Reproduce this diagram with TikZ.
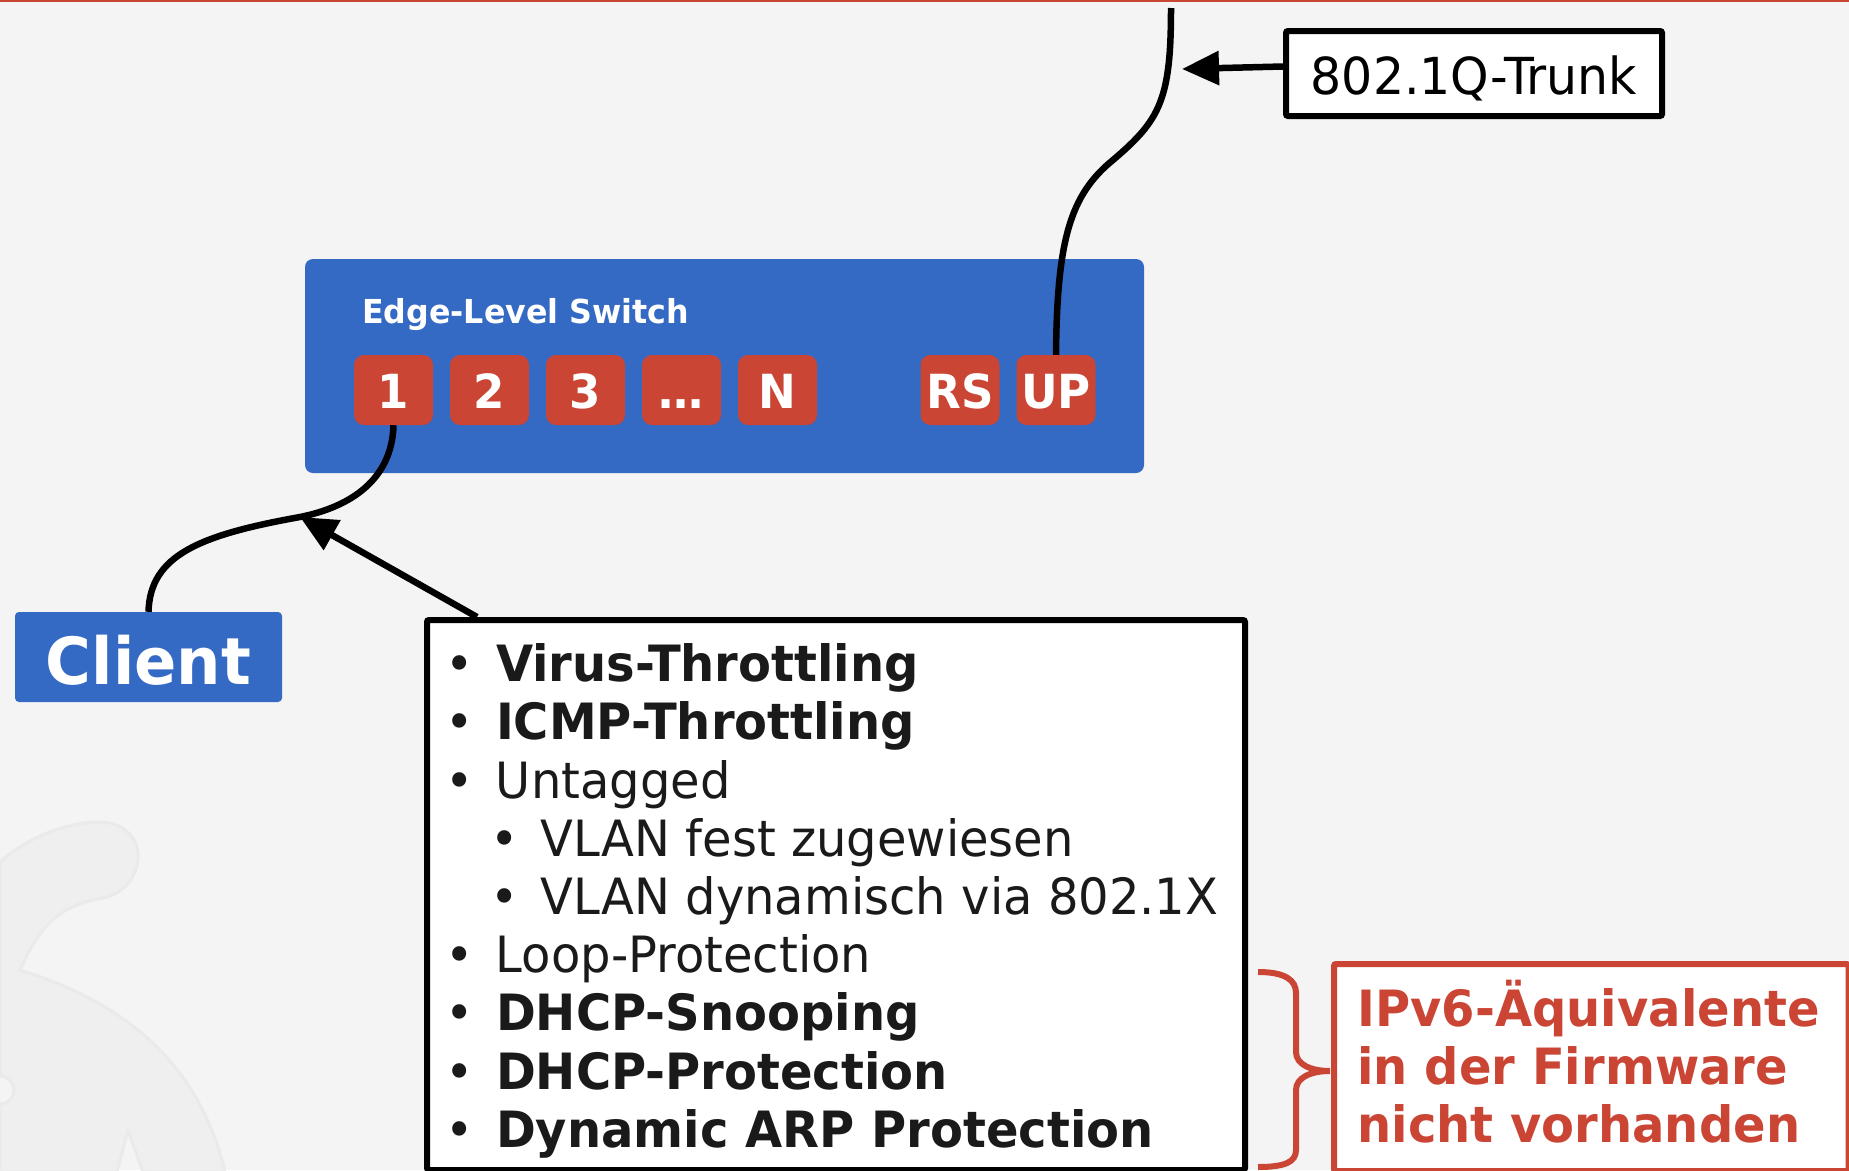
\documentclass[tikz,border=0pt]{standalone}
\usepackage{fontspec}
\setmainfont{DejaVu Sans}[FakeStretch=0.96]
\usetikzlibrary{arrows.meta}
\definecolor{bgcol}{HTML}{F4F4F4}
\definecolor{switchblue}{HTML}{3469C4}
\definecolor{portred}{HTML}{CB4535}
\definecolor{inkcol}{HTML}{1A1A1A}
\definecolor{markfill}{HTML}{EFEFEF}
\definecolor{markline}{HTML}{EAEAEA}
\newcommand\fsz[2]{\fontsize{#1}{#2}\selectfont}
\newcommand\bul[1]{\makebox[51pt][l]{\textbullet}#1}
\newcommand\subbul[1]{\hspace*{45pt}\makebox[51pt][l]{\textbullet}#1}

\begin{document}
\begin{tikzpicture}
[x=1pt,y=-1pt,
 switchbox/.style={rectangle,rounded corners=8pt,fill=switchblue,minimum width=839pt,minimum height=214pt,inner sep=0pt},
 swname/.style={text=white,font=\bfseries\fsz{33}{40},inner sep=0pt},
 port/.style={rectangle,rounded corners=10pt,fill=portred,text=white,font=\bfseries\fsz{47}{47},minimum width=79pt,minimum height=70pt,inner sep=0pt,text height=36pt,text depth=0pt},
 client/.style={rectangle,rounded corners=4pt,fill=switchblue,text=white,font=\bfseries\fsz{65}{65},minimum width=267pt,minimum height=90pt,inner sep=0pt,text height=54pt,text depth=0pt},
 textbox/.style={rectangle,draw=black,line width=6pt,fill=white,rounded corners=2pt},
 notebox/.style={rectangle,draw=portred,line width=6pt,fill=white,rounded corners=2pt,text=portred},
 cable/.style={line width=6.5pt},
 pointer/.style={line width=6.5pt,-{Triangle[length=37pt,width=33pt]}}]

\fill[bgcol] (0,0) rectangle (1849,1170);
\useasboundingbox (0,0) rectangle (1849,1170);
\draw[portred,line width=2pt] (0,1) -- (1849,1);

\fill[markfill,draw=markline,line width=3pt] (0,862) .. controls (30,835) and (70,822) .. (100,822)
  .. controls (125,822) and (140,840) .. (138,860) .. controls (136,880) and (120,895) .. (103,898)
  .. controls (60,905) and (40,925) .. (20,970) .. controls (100,995) and (195,1045) .. (225,1172)
  -- (143,1172) -- (128,1130) -- (117,1172) -- (0,1172) -- cycle;
\fill[bgcol,draw=markline,line width=3pt] (0,1090) circle (14);

\node[switchbox] (switch) at (724.5,366) {};
\node[swname,anchor=base west] (swtitle) at (362,323) {Edge-Level Switch};
\foreach \lbl [count=\i] in {1,2,3,…,N}
  \node[port] (p\i) at (393.5+96*\i-96,390) {\lbl};
\node[port] (rs) at (960,390) {RS};
\node[port] (up) at (1056,390) {UP};

\node[client] (client) at (148.5,657) {Client};

\node[textbox,minimum width=376pt,minimum height=85pt,inner sep=0pt,font=\fsz{51}{51},text height=41pt,text depth=0pt] (trunk) at (1474,73.5) {802.1Q-Trunk};

\node[textbox,anchor=north west,inner xsep=18pt,inner ysep=21pt,text=inkcol] (list) at (424,617)
  {\parbox[t][508pt][t]{782pt}{\fsz{50}{58.2}\raggedright
   \strut\bul{\textbf{Virus-Throttling}}\\
   \bul{\textbf{ICMP-Throttling}}\\
   \bul{Untagged}\\
   \subbul{VLAN fest zugewiesen}\\
   \subbul{VLAN dynamisch via 802.1X}\\
   \bul{Loop-Protection}\\
   \bul{\textbf{DHCP-Snooping}}\\
   \bul{\textbf{DHCP-Protection}}\\
   \bul{\textbf{Dynamic ARP Protection}}}};

\node[notebox,anchor=north west,inner xsep=23.5pt,inner ysep=16pt] (note) at (1331,961)
  {\parbox[t][175pt][t]{467.5pt}{\fsz{50}{58}\bfseries\raggedright
   \strut IPv6-Äquivalente\\in der Firmware\\nicht vorhanden}};

\draw[portred,line width=6pt] (1258,972) .. controls (1285,972) and (1296,980) .. (1296,993) -- (1296,1052)
  .. controls (1296,1064) and (1310,1071) .. (1330,1071) .. controls (1310,1071) and (1296,1078) .. (1296,1090)
  -- (1296,1150) .. controls (1296,1162) and (1285,1167) .. (1258,1167);

\coordinate (trunktop) at (1171,8);
\draw[cable] (trunktop) .. controls (1171,100) and (1160,120) .. (1113,160)
  .. controls (1070,195) and (1057,240) .. (up.north);
\draw[cable] (p1.south) .. controls (392,480) and (350,507) .. (300,517) coordinate (cjoin)
  .. controls (200,535) and (150,555) .. (client.north);

\coordinate (trunktip) at (1182,69);
\draw[pointer] ([yshift=7pt]trunk.west) -- (trunktip);
\coordinate (listfoot) at ([xshift=53pt]list.north west);
\draw[pointer] (listfoot) -- (cjoin);

\end{tikzpicture}
\end{document}
